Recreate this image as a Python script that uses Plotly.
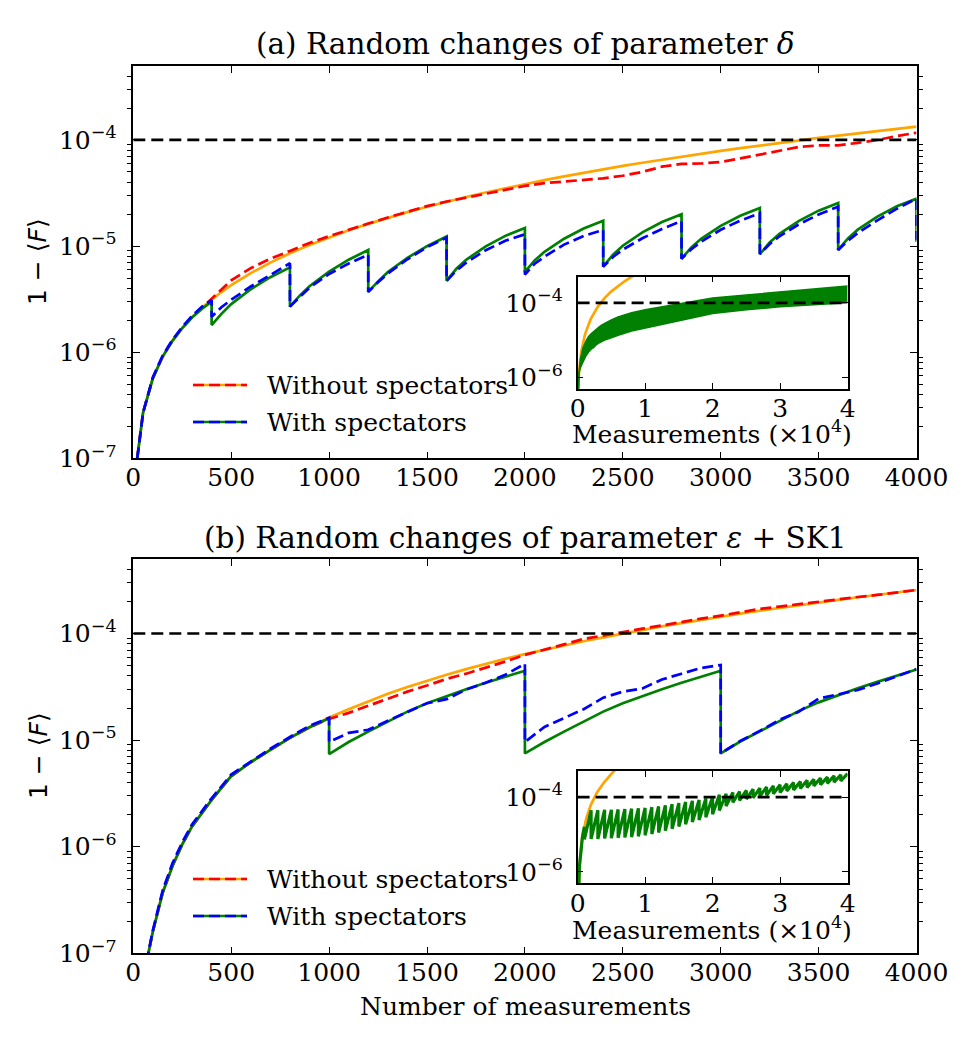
import math
import plotly.graph_objects as go

# ---------------- data: panel (a) ----------------
A_X = [10, 20, 50, 100, 150, 200, 250, 300, 350, 400, 450, 500, 600, 700, 800, 900,
       1000, 1100, 1200, 1300, 1400, 1500, 1600, 1700, 1800, 1900, 2000, 2100, 2200,
       2300, 2400, 2500, 2600, 2700, 2800, 2900, 3000, 3100, 3200, 3300, 3400, 3500,
       3600, 3700, 3800, 3900, 4000]
A_ORANGE = [5.0e-8, 1.0e-7, 2.7e-7, 5.7e-7, 9.1e-7, 1.28e-6, 1.69e-6, 2.14e-6, 2.62e-6,
            3.14e-6, 3.69e-6, 4.28e-6, 5.56e-6, 6.98e-6, 8.54e-6, 1.025e-5, 1.21e-5,
            1.41e-5, 1.62e-5, 1.85e-5, 2.09e-5, 2.35e-5, 2.62e-5, 2.90e-5, 3.20e-5,
            3.51e-5, 3.84e-5, 4.18e-5, 4.54e-5, 4.91e-5, 5.29e-5, 5.69e-5, 6.10e-5,
            6.53e-5, 6.97e-5, 7.42e-5, 7.89e-5, 8.37e-5, 8.87e-5, 9.38e-5, 9.91e-5,
            1.045e-4, 1.10e-4, 1.157e-4, 1.215e-4, 1.275e-4, 1.336e-4]
A_RED = [5.0e-8, 1.0e-7, 2.7e-7, 5.7e-7, 9.1e-7, 1.28e-6, 1.69e-6, 2.14e-6, 2.62e-6,
         3.2e-6, 3.95e-6, 4.75e-6, 6.2e-6, 7.6e-6, 9.0e-6, 1.07e-5, 1.24e-5, 1.43e-5,
         1.63e-5, 1.86e-5, 2.1e-5, 2.38e-5, 2.63e-5, 2.86e-5, 3.14e-5, 3.41e-5, 3.69e-5,
         3.92e-5, 4.05e-5, 4.2e-5, 4.35e-5, 4.6e-5, 5.0e-5, 5.6e-5, 5.95e-5, 6.0e-5,
         6.2e-5, 6.7e-5, 7.3e-5, 8.0e-5, 8.6e-5, 8.9e-5, 8.9e-5, 9.4e-5, 1.0e-4,
         1.09e-4, 1.17e-4]
# sawtooth (resets every 400 measurements)
A_FIRST_N = 10                       # points of A_X before the first reset
A_RESETS = [400, 800, 1200, 1600, 2000, 2400, 2800, 3200, 3600]
A_OFFSETS = [0, 50, 100, 200, 300, 400]
A_GREEN_FIRST = [5.0e-8, 1.0e-7, 2.7e-7, 5.7e-7, 9.1e-7, 1.28e-6, 1.69e-6, 2.12e-6, 2.56e-6, 3.0e-6]
A_GREEN_SEGS = [
    [1.8e-6, 2.30e-6, 2.84e-6, 3.92e-6, 5.09e-6, 6.3e-6],
    [2.69e-6, 3.41e-6, 4.19e-6, 5.75e-6, 7.44e-6, 9.2e-6],
    [3.7e-6, 4.65e-6, 5.68e-6, 7.74e-6, 9.98e-6, 1.23e-5],
    [4.7e-6, 6.11e-6, 7.43e-6, 9.95e-6, 1.248e-5, 1.48e-5],
    [5.7e-6, 7.32e-6, 8.83e-6, 1.173e-5, 1.463e-5, 1.73e-5],
    [6.4e-6, 8.30e-6, 1.007e-5, 1.347e-5, 1.687e-5, 2.0e-5],
    [7.6e-6, 9.73e-6, 1.170e-5, 1.550e-5, 1.930e-5, 2.28e-5],
    [8.4e-6, 1.079e-5, 1.302e-5, 1.729e-5, 2.157e-5, 2.55e-5],
    [9.2e-6, 1.183e-5, 1.428e-5, 1.898e-5, 2.368e-5, 2.8e-5],
]
A_GREEN_END = 1.1e-5
A_BLUE_FIRST = [5.0e-8, 1.0e-7, 2.7e-7, 5.8e-7, 9.3e-7, 1.31e-6, 1.73e-6, 2.2e-6, 2.68e-6, 3.1e-6]
A_BLUE_SEGS = [
    [2.16e-6, 2.65e-6, 3.12e-6, 4.16e-6, 5.34e-6, 6.9e-6],
    [2.69e-6, 3.34e-6, 4.06e-6, 5.46e-6, 6.84e-6, 8.3e-6],
    [3.7e-6, 4.56e-6, 5.51e-6, 7.51e-6, 9.78e-6, 1.2e-5],
    [4.7e-6, 5.87e-6, 6.98e-6, 9.15e-6, 1.123e-5, 1.29e-5],
    [5.4e-6, 6.81e-6, 7.95e-6, 1.032e-5, 1.244e-5, 1.42e-5],
    [6.4e-6, 7.89e-6, 9.26e-6, 1.185e-5, 1.451e-5, 1.72e-5],
    [7.6e-6, 9.34e-6, 1.1e-5, 1.426e-5, 1.737e-5, 2.05e-5],
    [8.4e-6, 1.047e-5, 1.237e-5, 1.608e-5, 1.984e-5, 2.35e-5],
    [9.2e-6, 1.124e-5, 1.328e-5, 1.746e-5, 2.25e-5, 2.8e-5],
]
A_BLUE_END = 1.15e-5

# inset (a): long run, x in units of 1e4 measurements
IA_ORANGE_EXT_X = [0.5, 0.6, 0.7, 0.8, 0.9]
IA_ORANGE_EXT = [2.03e-4, 2.86e-4, 3.83e-4, 4.94e-4, 6.2e-4]
IA_ENV_X = [0.002, 0.01, 0.02, 0.04, 0.08, 0.12, 0.16, 0.2, 0.24, 0.28, 0.32, 0.36,
            0.4, 0.5, 0.6, 0.8, 1.0, 1.5, 2.0, 2.5, 3.0, 3.5, 4.0]
IA_TOP = [1e-7, 5.7e-7, 1.28e-6, 3.0e-6, 6.3e-6, 9.2e-6, 1.23e-5, 1.48e-5, 1.73e-5,
          2.0e-5, 2.28e-5, 2.55e-5, 2.8e-5, 3.5e-5, 4.2e-5, 5.4e-5, 6.5e-5, 9.5e-5,
          1.35e-4, 1.62e-4, 1.95e-4, 2.35e-4, 2.8e-4]
IA_BOT = [1e-7, 5.7e-7, 1.28e-6, 1.8e-6, 2.69e-6, 3.7e-6, 4.7e-6, 5.7e-6, 6.4e-6,
          7.6e-6, 8.4e-6, 9.2e-6, 1.0e-5, 1.15e-5, 1.35e-5, 1.75e-5, 2.1e-5, 3.4e-5,
          5.2e-5, 6.5e-5, 7.8e-5, 8.9e-5, 1.0e-4]

# ---------------- data: panel (b) ----------------
B_X = [60, 77, 100, 150, 200, 250, 300, 400, 500, 600, 700, 800, 900, 1000, 1100, 1200,
       1300, 1400, 1500, 1600, 1700, 1800, 1900, 2000, 2100, 2200, 2300, 2400, 2500,
       2600, 2700, 2800, 2900, 3000, 3100, 3200, 3300, 3400, 3500, 3600, 3700, 3800,
       3900, 4000]
B_ORANGE = [5.8e-8, 1.0e-7, 1.6e-7, 3.7e-7, 6.6e-7, 1.05e-6, 1.55e-6, 2.75e-6, 4.6e-6,
            6.2e-6, 8.1e-6, 1.05e-5, 1.32e-5, 1.63e-5, 1.95e-5, 2.32e-5, 2.72e-5,
            3.15e-5, 3.62e-5, 4.1e-5, 4.63e-5, 5.2e-5, 5.8e-5, 6.4e-5, 7.06e-5, 7.74e-5,
            8.46e-5, 9.2e-5, 1.0e-4, 1.08e-4, 1.165e-4, 1.25e-4, 1.345e-4, 1.44e-4,
            1.535e-4, 1.635e-4, 1.74e-4, 1.85e-4, 1.96e-4, 2.07e-4, 2.19e-4, 2.31e-4,
            2.43e-4, 2.56e-4]
B_RED = [5.8e-8, 1.0e-7, 1.6e-7, 3.7e-7, 6.6e-7, 1.05e-6, 1.55e-6, 2.75e-6, 4.6e-6,
         6.2e-6, 8.1e-6, 1.05e-5, 1.32e-5, 1.58e-5, 1.80e-5, 2.1e-5, 2.45e-5, 2.85e-5,
         3.25e-5, 3.75e-5, 4.2e-5, 4.75e-5, 5.45e-5, 6.3e-5, 7.0e-5, 7.9e-5, 8.9e-5,
         9.6e-5, 1.04e-4, 1.11e-4, 1.19e-4, 1.29e-4, 1.38e-4, 1.47e-4, 1.58e-4, 1.70e-4,
         1.79e-4, 1.89e-4, 1.99e-4, 2.08e-4, 2.2e-4, 2.3e-4, 2.42e-4, 2.56e-4]
# sawtooth (resets every 1000 measurements)
B_FIRST_N = 14
B_RESETS = [1000, 2000, 3000]
B_OFFSETS = [0, 100, 200, 300, 400, 500, 600, 700, 800, 900, 1000]
B_GREEN_FIRST = [5.8e-8, 1.0e-7, 1.6e-7, 3.7e-7, 6.6e-7, 1.05e-6, 1.55e-6, 2.75e-6, 4.6e-6,
                 6.2e-6, 8.1e-6, 1.05e-5, 1.32e-5, 1.6e-5]
B_GREEN_SEGS = [
    [7.4e-6, 9.6e-6, 1.2e-5, 1.5e-5, 1.85e-5, 2.22e-5, 2.6e-5, 3.0e-5, 3.45e-5, 3.95e-5, 4.47e-5],
    [7.5e-6, 9.6e-6, 1.2e-5, 1.5e-5, 1.85e-5, 2.22e-5, 2.6e-5, 3.0e-5, 3.45e-5, 3.95e-5, 4.47e-5],
    [7.5e-6, 9.7e-6, 1.21e-5, 1.52e-5, 1.88e-5, 2.26e-5, 2.65e-5, 3.06e-5, 3.52e-5, 4.03e-5, 4.6e-5],
]
B_BLUE_FIRST = [5.8e-8, 1.02e-7, 1.65e-7, 3.9e-7, 7.0e-7, 1.1e-6, 1.62e-6, 2.85e-6, 4.75e-6,
                6.3e-6, 8.3e-6, 1.07e-5, 1.36e-5, 1.62e-5]
B_BLUE_SEGS = [
    [9.6e-6, 1.17e-5, 1.25e-5, 1.52e-5, 1.85e-5, 2.22e-5, 2.42e-5, 2.98e-5, 3.45e-5, 4.1e-5, 5.2e-5],
    [9.6e-6, 1.33e-5, 1.6e-5, 1.95e-5, 2.5e-5, 2.85e-5, 3.05e-5, 3.7e-5, 4.2e-5, 4.75e-5, 5.06e-5],
    [7.5e-6, 9.8e-6, 1.22e-5, 1.55e-5, 1.85e-5, 2.45e-5, 2.7e-5, 2.95e-5, 3.4e-5, 4.0e-5, 4.64e-5],
]

# inset (b): long run, resets every 1000 measurements (x in units of 1e4)
IB_ORANGE_EXT_X = [0.45, 0.5, 0.55, 0.6]
IB_ORANGE_EXT = [3.3e-4, 4.2e-4, 5.2e-4, 6.3e-4]
IB_RESET_STEP = 0.1
IB_BOTTOMS = [7.4e-6, 7.6e-6, 7.6e-6, 7.8e-6, 7.9e-6, 8.1e-6, 8.3e-6, 8.5e-6, 8.9e-6, 9.5e-6,
              1.02e-5, 1.12e-5, 1.26e-5, 1.41e-5, 1.62e-5, 1.86e-5, 2.14e-5, 2.45e-5, 2.88e-5,
              3.47e-5, 4.37e-5, 5.75e-5, 7.24e-5, 8.13e-5, 8.91e-5, 9.55e-5, 1.05e-4, 1.12e-4,
              1.23e-4, 1.32e-4, 1.45e-4, 1.55e-4, 1.70e-4, 1.82e-4, 2.0e-4, 2.14e-4, 2.34e-4,
              2.51e-4, 2.69e-4]
IB_PEAKS = [4.47e-5, 4.47e-5, 4.57e-5, 4.57e-5, 4.68e-5, 4.79e-5, 4.9e-5, 5.01e-5, 5.13e-5,
            5.37e-5, 5.62e-5, 6.03e-5, 6.46e-5, 6.92e-5, 7.41e-5, 7.94e-5, 8.32e-5, 9.12e-5,
            1.02e-4, 1.15e-4, 1.23e-4, 1.32e-4, 1.41e-4, 1.51e-4, 1.62e-4, 1.74e-4, 1.86e-4,
            2.0e-4, 2.14e-4, 2.29e-4, 2.45e-4, 2.63e-4, 2.82e-4, 3.02e-4, 3.24e-4, 3.47e-4,
            3.72e-4, 3.98e-4, 4.27e-4]

THRESHOLD = 1e-4
X_MAIN_RANGE = [0, 4000]
X_INSET_RANGE = [0, 4]
X_MAIN_TICKS = [0, 500, 1000, 1500, 2000, 2500, 3000, 3500, 4000]
X_INSET_TICKS = [0, 1, 2, 3, 4]
TITLE_A = "(a) Random changes of parameter <i>δ</i>"
TITLE_B = "(b) Random changes of parameter <i>ε</i> + SK1"
LEG_1 = "Without spectators"
LEG_2 = "With spectators"

# ---------------- style / layout ----------------
W, H = 975, 1050
ORANGE, RED, GREEN, BLUE = "#FFA500", "#FF0000", "#008000", "#0000FF"
LW = 2.7
DASH = "11px,5px"
BLACKDASH = "12px,6px"
SERIF = "DejaVu Serif"
SANS = "DejaVu Sans"
FS = 25


def fx(p):
    return p / W


def fy(p):
    return 1 - p / H


def saw(first_x, first_y, starts, offsets, segs):
    xs, ys = list(first_x), list(first_y)
    for s, seg in zip(starts, segs):
        xs += [s + o for o in offsets]
        ys += list(seg)
    return xs, ys


fig = go.Figure()


def line(x, y, color, xa, ya, dash=None, width=LW):
    fig.add_trace(go.Scatter(x=x, y=y, mode="lines", xaxis=xa, yaxis=ya, showlegend=False,
                             line=dict(color=color, width=width, dash=dash), hoverinfo="skip"))


# panel (a)
gx, gy = saw(A_X[:A_FIRST_N], A_GREEN_FIRST, A_RESETS, A_OFFSETS, A_GREEN_SEGS)
bx, by = saw(A_X[:A_FIRST_N], A_BLUE_FIRST, A_RESETS, A_OFFSETS, A_BLUE_SEGS)
gx.append(X_MAIN_RANGE[1]); gy.append(A_GREEN_END)
bx.append(X_MAIN_RANGE[1]); by.append(A_BLUE_END)
line(A_X, A_ORANGE, ORANGE, "x", "y")
line(A_X, A_RED, RED, "x", "y", DASH)
line(gx, gy, GREEN, "x", "y")
line(bx, by, BLUE, "x", "y", DASH)
line(X_MAIN_RANGE, [THRESHOLD, THRESHOLD], "black", "x", "y", BLACKDASH)

# inset (a)
line([v / 1e4 for v in A_X] + IA_ORANGE_EXT_X, A_ORANGE + IA_ORANGE_EXT, ORANGE, "x2", "y2")
fig.add_trace(go.Scatter(x=IA_ENV_X, y=IA_TOP, mode="lines", xaxis="x2", yaxis="y2",
                         line=dict(color=GREEN, width=1.5), showlegend=False, hoverinfo="skip"))
fig.add_trace(go.Scatter(x=IA_ENV_X, y=IA_BOT, mode="lines", xaxis="x2", yaxis="y2",
                         fill="tonexty", fillcolor=GREEN,
                         line=dict(color=GREEN, width=1.5), showlegend=False, hoverinfo="skip"))
line(X_INSET_RANGE, [THRESHOLD, THRESHOLD], "black", "x2", "y2", BLACKDASH)

# panel (b)
gx, gy = saw(B_X[:B_FIRST_N], B_GREEN_FIRST, B_RESETS, B_OFFSETS, B_GREEN_SEGS)
bx, by = saw(B_X[:B_FIRST_N], B_BLUE_FIRST, B_RESETS, B_OFFSETS, B_BLUE_SEGS)
line(B_X, B_ORANGE, ORANGE, "x3", "y3")
line(B_X, B_RED, RED, "x3", "y3", DASH)
line(gx, gy, GREEN, "x3", "y3")
line(bx, by, BLUE, "x3", "y3", DASH)
line(X_MAIN_RANGE, [THRESHOLD, THRESHOLD], "black", "x3", "y3", BLACKDASH)

# inset (b)
line([v / 1e4 for v in B_X] + IB_ORANGE_EXT_X, B_ORANGE + IB_ORANGE_EXT, ORANGE, "x4", "y4")
ix = [v / 1e4 for v in B_X[:B_FIRST_N]]
iy = list(B_GREEN_FIRST)
for k, (bot, peak) in enumerate(zip(IB_BOTTOMS, IB_PEAKS), start=1):
    ix += [k * IB_RESET_STEP, (k + 1) * IB_RESET_STEP]
    iy += [bot, peak]
line(ix, iy, GREEN, "x4", "y4", width=3.2)
line(X_INSET_RANGE, [THRESHOLD, THRESHOLD], "black", "x4", "y4", BLACKDASH)

# ---------------- axes ----------------
MAIN_XD = [fx(133.3), fx(916.5)]
A_YD = [fy(458.3), fy(65.8)]
B_YD = [fy(953.3), fy(559.0)]
IN_XD = [fx(577.6), fx(847.6)]
IA_YD = [fy(388.7), fy(276.7)]
IB_YD = [fy(883.0), fy(771.0)]


def sup(e):
    return "10<sup>−%d</sup>" % e


minor_main = [m * 10.0 ** e for e in range(-7, -3) for m in range(2, 10) if m * 10.0 ** e < 5e-4]
tickfont = dict(family=SERIF, size=FS, color="black")
common = dict(showline=True, linecolor="black", linewidth=1.5, mirror="allticks",
              ticks="inside", tickcolor="black", tickwidth=1.3, showgrid=False,
              zeroline=False, tickfont=tickfont, automargin=False)


def main_x(anchor, domain):
    return dict(common, domain=domain, anchor=anchor, range=X_MAIN_RANGE, tickvals=X_MAIN_TICKS,
                ticktext=[str(t) for t in X_MAIN_TICKS], ticklen=7, ticklabelstandoff=-4)


def main_y(anchor, domain):
    return dict(common, domain=domain, anchor=anchor, type="log",
                range=[-7, math.log10(5e-4)], tickvals=[1e-7, 1e-6, 1e-5, 1e-4],
                ticktext=[sup(7), sup(6), sup(5), sup(4)], ticklen=7, ticklabelstandoff=10,
                minor=dict(tickvals=minor_main, ticks="outside", ticklen=5, tickwidth=1.1,
                           tickcolor="black", showgrid=False))


def inset_x(anchor, domain):
    return dict(common, domain=domain, anchor=anchor, range=X_INSET_RANGE,
                tickvals=X_INSET_TICKS, ticktext=[str(t) for t in X_INSET_TICKS],
                ticklen=6, ticklabelstandoff=-3)


def inset_y(anchor, domain):
    return dict(common, domain=domain, anchor=anchor, type="log",
                range=[math.log10(5e-7), math.log10(5e-4)], tickvals=[1e-6, 1e-4],
                ticktext=[sup(6), sup(4)], ticklen=6, ticklabelstandoff=8)


fig.update_layout(
    template="none",
    width=W, height=H, autosize=False,
    margin=dict(l=0, r=0, t=0, b=0, pad=0, autoexpand=False),
    paper_bgcolor="white", plot_bgcolor="white",
    showlegend=False,
    xaxis=main_x("y", MAIN_XD), yaxis=main_y("x", A_YD),
    xaxis2=inset_x("y2", IN_XD), yaxis2=inset_y("x2", IA_YD),
    xaxis3=main_x("y3", MAIN_XD), yaxis3=main_y("x3", B_YD),
    xaxis4=inset_x("y4", IN_XD), yaxis4=inset_y("x4", IB_YD),
)

# ---------------- texts ----------------
ann = []


def text(s, xp, yp, size=FS, family=SERIF, xanchor="center", angle=0):
    ann.append(dict(text=s, x=fx(xp), y=fy(yp), xref="paper", yref="paper", showarrow=False,
                    xanchor=xanchor, yanchor="middle", textangle=angle,
                    font=dict(family=family, size=size, color="black")))


text(TITLE_A, 525, 44, size=29.5)
text(TITLE_B, 525, 538, size=29.5)
text("1 − ⟨<i>F</i>⟩", 38, 262, family=SANS, angle=-90)
text("1 − ⟨<i>F</i>⟩", 38, 756, family=SANS, angle=-90)
text("Number of measurements", 525, 1006)
text("Measurements (×10<sup>4</sup>)", 712, 432)
text("Measurements (×10<sup>4</sup>)", 712, 928)
shapes = []
for y1, y2 in [(385, 422), (879, 916)]:
    text(LEG_1, 265, y1, xanchor="left")
    text(LEG_2, 265, y2, xanchor="left")
    for yy, base, top in [(y1, ORANGE, RED), (y2, GREEN, BLUE)]:
        shapes.append(dict(type="line", xref="paper", yref="paper", x0=fx(193), x1=fx(247),
                           y0=fy(yy), y1=fy(yy), line=dict(color=base, width=LW)))
        shapes.append(dict(type="line", xref="paper", yref="paper", x0=fx(193), x1=fx(247),
                           y0=fy(yy), y1=fy(yy), line=dict(color=top, width=LW, dash=DASH)))
fig.update_layout(annotations=ann, shapes=shapes)

fig.write_html("out.html")
